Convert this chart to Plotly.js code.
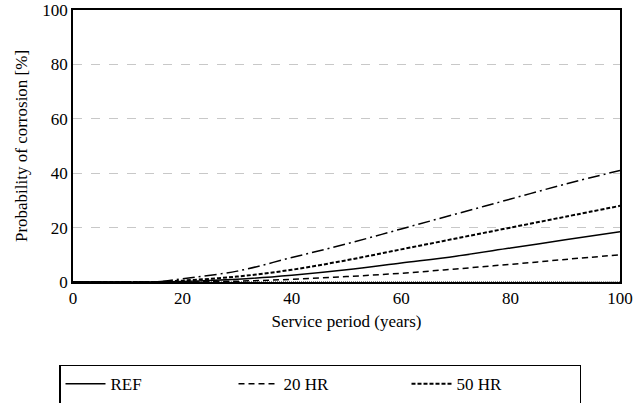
<!DOCTYPE html><html><head><script src="https://cdn.plot.ly/plotly-3.0.1.min.js"></script></head><body style="margin:0"><div id="c" style="width:640px;height:403px"></div><script>
const years=[0,10,15,20,30,40,50,60,70,80,90,100];
const ref=[0,0,0,0.2,1,2.5,4.5,7,9.5,12.5,15.5,18.5];
const hr20=[0,0,0,0,0.3,1,2,3.2,4.8,6.5,8.3,10];
const hr50=[0,0,0,0.5,2,4.5,8,12,16,20,24,28];
const hr75=[0,0,0,1.2,4,9,14,19.5,25,30.5,36,41];
const hr100=[0,0,0,0,0,0,0,0,0,0,0,0];
const names=['REF','20 HR','50 HR','75 HR','100 HR'];
const dashes=['solid','6px,4px','4px,2px','12px,4px,2px,4px','1px,1px'];
const widths=[1.5,1.5,2,1.5,1];
const data=[ref,hr20,hr50,hr75,hr100].map((y,i)=>({x:years,y:y,mode:'lines',name:names[i],line:{color:'black',dash:dashes[i],width:widths[i],shape:'spline'}}));
const f={family:'Liberation Serif',size:17,color:'black'};
Plotly.newPlot('c',data,{width:640,height:403,margin:{l:73,r:20,t:10,b:121,autoexpand:false},font:f,showlegend:true,
legend:{orientation:'h',x:0.5,xref:'container',xanchor:'center',y:0.095,yref:'container',yanchor:'top',bordercolor:'black',borderwidth:1.5,font:f,itemwidth:40,entrywidth:118,tracegroupgap:0},
xaxis:{range:[0,100],dtick:20,showgrid:false,zeroline:false,showline:true,mirror:true,linecolor:'black',linewidth:1.5,ticks:'',title:{text:'Service period (years)',font:f,standoff:8}},
yaxis:{range:[0,100],dtick:20,gridcolor:'#c8c8c8',griddash:'dash',zeroline:false,showline:true,mirror:true,linecolor:'black',linewidth:1.5,ticks:'',title:{text:'Probability of corrosion [%]',font:f,standoff:10}},
plot_bgcolor:'white',paper_bgcolor:'white'},{displayModeBar:false});
</script></body></html>
